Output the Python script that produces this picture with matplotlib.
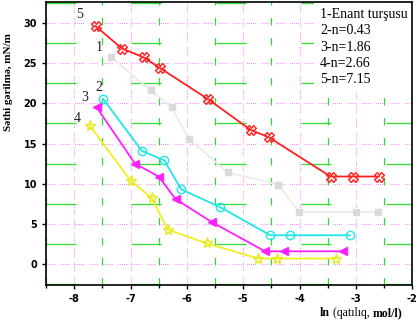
import matplotlib
matplotlib.use("Agg")
import matplotlib.pyplot as plt
from matplotlib.ticker import MultipleLocator

plt.rcParams['axes.unicode_minus'] = False

# Data (ln concentration vs surface tension)
x1 = [-7.34, -6.64, -6.27, -5.97, -5.27, -4.38, -4.01, -2.99, -2.60]
y1 = [25.7, 21.6, 19.5, 15.6, 11.4, 9.9, 6.5, 6.5, 6.5]

x2 = [-7.48, -6.80, -6.40, -6.10, -5.41, -4.52, -4.17, -3.11]
y2 = [20.5, 14.1, 12.9, 9.3, 7.1, 3.6, 3.6, 3.6]

x3 = [-7.60, -6.92, -6.50, -6.20, -5.55, -4.61, -4.27, -3.22]
y3 = [19.5, 12.5, 10.9, 8.1, 5.2, 1.6, 1.6, 1.6]

x4 = [-7.72, -7.00, -6.62, -6.34, -5.65, -4.73, -4.40, -3.35]
y4 = [17.2, 10.4, 8.2, 4.3, 2.6, 0.7, 0.7, 0.7]

x5 = [-7.62, -7.15, -6.76, -6.48, -5.62, -4.87, -4.55, -3.45, -3.06, -2.59]
y5 = [29.6, 26.8, 25.7, 24.4, 20.5, 16.7, 15.8, 10.9, 10.9, 10.9]

legend_lines = ["1-Enant turşusu", "2-n=0.43", "3-n=1.86", "4-n=2.66", "5-n=7.15"]
xticks = [-8, -7, -6, -5, -4, -3, -2]
yticks = [0, 5, 10, 15, 20, 25, 30]
xminor = [-8.5, -7.5, -6.5, -5.5, -4.5, -3.5, -2.5]
yminor = [-2.5, 2.5, 7.5, 12.5, 17.5, 22.5, 27.5, 32.5]

fig = plt.figure(figsize=(4.2, 3.24), dpi=100)
ax = fig.add_axes([0.1095, 0.120, 0.872, 0.874])
ax.set_xlim(-8.5, -2)
ax.set_ylim(-2.6, 32.6)

ax.set_xticks(xticks)
ax.set_yticks(yticks)
ax.xaxis.set_minor_locator(MultipleLocator(0.5))

pink = '#ff70ff'
green = '#30dd30'
dotdash = (0, (0.7, 1.1, 0.7, 1.1, 0.7, 1.1, 0.7, 1.1, 0.7, 5))
for xv in xticks:
    ax.axvline(xv, color=pink, linestyle=dotdash, linewidth=0.8, zorder=0)
for yv in yticks:
    ax.axhline(yv, color=pink, linestyle=dotdash, linewidth=0.8, zorder=0)
for xv in xminor:
    ax.axvline(xv, color=green, linestyle=(0, (6, 10)), linewidth=0.9, zorder=0)
for yv in yminor:
    ax.axhline(yv, color=green, linestyle=(0, (24, 44)), linewidth=0.9, zorder=0)

ax.tick_params(which='major', direction='out', length=3, width=1, labelsize=7)
ax.tick_params(which='minor', direction='out', length=2, width=1)
for lab in ax.get_xticklabels() + ax.get_yticklabels():
    lab.set_fontweight('bold')
for sp in ax.spines.values():
    sp.set_linewidth(1.2)
    sp.set_zorder(7)

ax.plot(x1, y1, color='#ebebeb', lw=1.3, marker='s', ms=5, mfc='#dadada', mec='#dadada', zorder=3)
ax.plot(x2, y2, color='#20e6e6', lw=1.3, marker='o', ms=6, mfc='none', mec='#20e6e6', zorder=3)
ax.plot(x3, y3, color='#ff20ff', lw=1.3, marker='<', ms=6, mfc='#ff20ff', mec='#ff20ff', zorder=3)
ax.plot(x4, y4, color='#f0f020', lw=1.3, marker='*', ms=8, mfc='none', mec='#e8e820', zorder=3)
ax.plot(x5, y5, color='#ff2020', lw=1.3, marker='X', ms=7, mfc='none', mec='#ff2020', zorder=3)

serif = 'Liberation Serif'
for t, (px, py) in zip(['5', '1', '2', '3', '4'],
                       [(-7.90, 31.0), (-7.55, 26.9), (-7.57, 22.0), (-7.82, 20.7), (-7.94, 18.1)]):
    ax.text(px, py, t, family=serif, fontsize=10, ha='center', va='center', color='#202020', zorder=4)

ax.text(0.748, 0.978, "\n".join(legend_lines), transform=ax.transAxes, family=serif,
        fontsize=10, ha='left', va='top', linespacing=1.32,
        bbox=dict(facecolor='white', edgecolor='none', pad=4), zorder=5)

fig.text(0.020, 0.747, "Səthi gərilmə, mN/m", rotation=90, family=serif, fontweight='bold',
         fontsize=8, ha='center', va='center')

t1 = fig.text(0.762, 0.025, "ln", family=serif, fontweight='bold', fontsize=8.5, ha='left', va='baseline')
t2 = ax.annotate(" (qatılıq, ", xy=(1, 0), xycoords=t1, family=serif, fontsize=8.5,
                 ha='left', va='bottom', annotation_clip=False)
t3 = ax.annotate("mol/l)", xy=(1, 0), xycoords=t2, family=serif, fontweight='bold', fontsize=8.5,
                 ha='left', va='bottom', annotation_clip=False)

fig.savefig("out.png", dpi=100)
